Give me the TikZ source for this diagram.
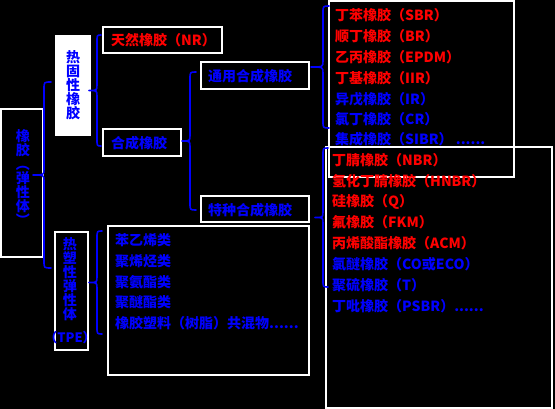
\documentclass[tikz,border=0pt]{standalone}
\usepackage{fontspec}
\setmainfont{Noto Sans CJK SC}
\newcommand\cbr[5]{% xe xl xt top bottom
  \draw[brc] (#1,#4) .. controls (#2,#4) .. (#2,{#4+7})
    -- (#2,{(#4+#5)/2-6}) .. controls (#2,{(#4+#5)/2}) .. (#3,{(#4+#5)/2})
    .. controls (#2,{(#4+#5)/2}) .. (#2,{(#4+#5)/2+6})
    -- (#2,{#5-7}) .. controls (#2,#5) .. (#1,#5);}
\begin{document}
\begin{tikzpicture}[x=1pt,y=-1pt,
  box/.style={draw=white,line width=1.5pt,inner sep=0pt},
  bl/.style={text=blue},
  rd/.style={text=red},
  item/.style={anchor=west,inner sep=0pt,font=\fontsize{14}{14}\selectfont\bfseries},
  vert/.style={align=center,inner sep=0pt,text=blue,font=\fontsize{14}{14}\selectfont\bfseries},
  brc/.style={draw=blue,line width=1.6pt,line cap=round,line join=round}]
\fill[black] (0,0) rectangle (555,409);
\useasboundingbox (0,0) rectangle (555,409);
% boxes
\node[box,minimum width=42pt,minimum height=148pt] (rub) at (22,183) {};
\node[box,fill=white,minimum width=34pt,minimum height=99pt] (thr) at (73,85.5) {};
\node[box,minimum width=33pt,minimum height=118pt] (tpe) at (71.5,291) {};
\node[box,minimum width=119pt,minimum height=26pt] (nr) at (162.5,40) {};
\node[box,minimum width=78pt,minimum height=27pt] (syn) at (142,142.5) {};
\node[box,minimum width=108pt,minimum height=27pt] (gen) at (255,75.5) {};
\node[box,minimum width=108pt,minimum height=26pt] (spe) at (255,209) {};
\node[box,minimum width=201pt,minimum height=149pt] (tpl) at (208.5,300.5) {};
\node[box,minimum width=185pt,minimum height=176pt] (gl) at (421.5,89) {};
\node[box,minimum width=226pt,minimum height=261pt] (sl) at (439,277.5) {};
% vertical labels
\node[vert] (trub) at (23,178) {橡\\胶\\︵\\弹\\性\\体\\︶};
\node[vert] (tthr) at (73,85) {热\\固\\性\\橡\\胶};
\node[vert] (ttpe) at (70,279) {热\\塑\\性\\弹\\性\\体};
\node[inner sep=0pt,text=blue,font=\fontsize{13}{13}\selectfont\bfseries] (ttpe2) at (70,338) {（TPE）};
% box labels
\node[item,rd] (tnr) at (111,40) {天然橡胶（NR）};
\node[item,bl] (tsyn) at (111,143) {合成橡胶};
\node[item,bl] (tgen) at (208,76) {通用合成橡胶};
\node[item,bl] (tspe) at (208,210) {特种合成橡胶};
% general list
\node[item,rd] (g1) at (335,15) {丁苯橡胶（SBR）};
\node[item,rd] (g2) at (335,36) {顺丁橡胶（BR）};
\node[item,rd] (g3) at (335,57) {乙丙橡胶（EPDM）};
\node[item,rd] (g4) at (335,78) {丁基橡胶（IIR）};
\node[item,bl] (g5) at (335,99) {异戊橡胶（IR）};
\node[item,bl] (g6) at (335,119) {氯丁橡胶（CR）};
\node[item,bl] (g7) at (335,139) {集成橡胶（SIBR）~......};
% special list
\node[item,rd] (s1) at (332,160) {丁腈橡胶（NBR）};
\node[item,rd] (s2) at (332,181) {氢化丁腈橡胶（HNBR）};
\node[item,rd] (s3) at (332,202) {硅橡胶（Q）};
\node[item,rd] (s4) at (332,222) {氟橡胶（FKM）};
\node[item,rd] (s5) at (332,243) {丙烯酸酯橡胶（ACM）};
\node[item,bl] (s6) at (332,264) {氯醚橡胶（CO或ECO）};
\node[item,bl] (s7) at (332,285) {聚硫橡胶（T）};
\node[item,bl] (s8) at (332,306) {丁吡橡胶（PSBR）......};
% TPE list
\node[item,bl] (p1) at (115,240) {苯乙烯类};
\node[item,bl] (p2) at (115,261) {聚烯烃类};
\node[item,bl] (p3) at (115,282) {聚氨酯类};
\node[item,bl] (p4) at (115,302) {聚醚酯类};
\node[item,bl] (p5) at (115,323) {橡胶塑料（树脂）共混物......};
% braces
\cbr{51}{44}{33}{82}{268}
\cbr{101}{97}{89}{35}{146}
\cbr{196}{190}{182}{72}{210}
\cbr{329}{323}{311}{6}{128}
\cbr{328}{323}{315}{148}{287}
\cbr{102}{97}{89}{231}{334}
\end{tikzpicture}
\end{document}
